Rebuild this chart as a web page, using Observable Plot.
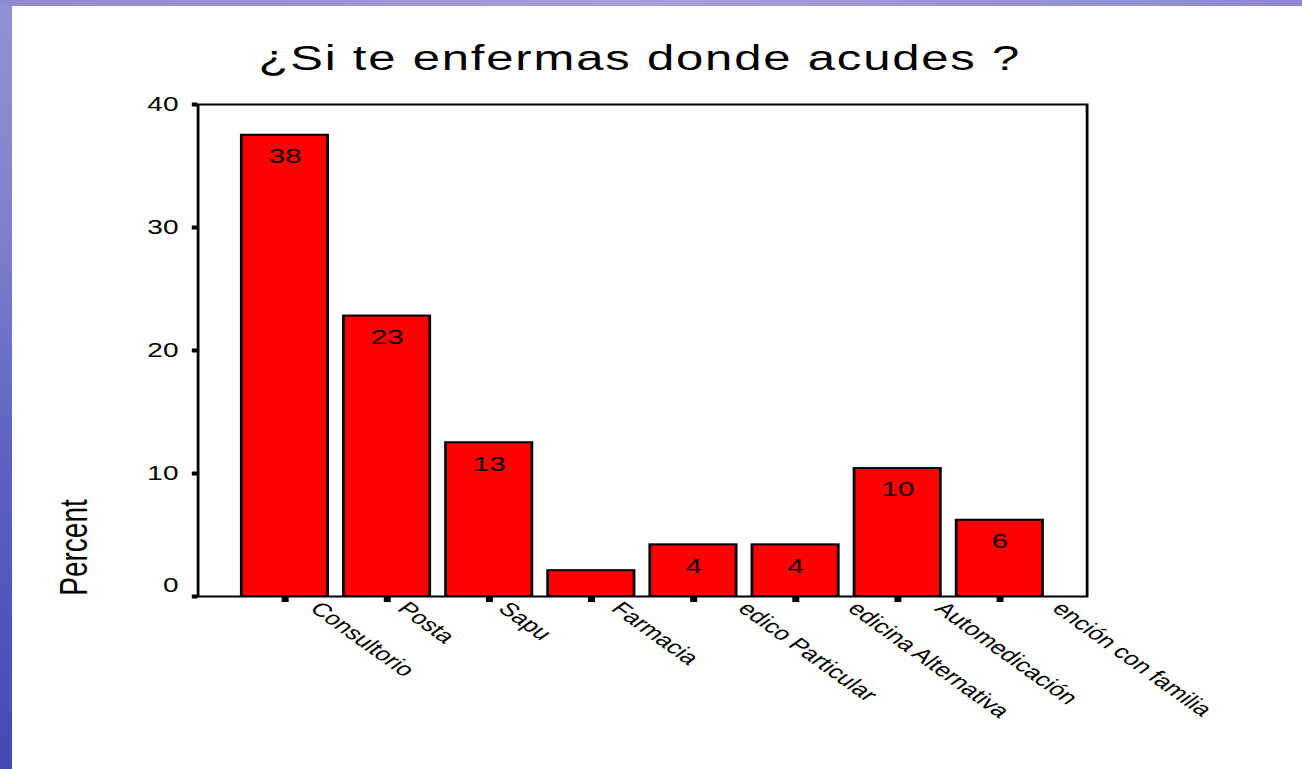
<!DOCTYPE html>
<html>
<head>
<meta charset="utf-8">
<script src="https://cdn.jsdelivr.net/npm/d3@7"></script>
<script src="https://cdn.jsdelivr.net/npm/@observablehq/plot@0.6"></script>
<style>
  html, body { margin: 0; padding: 0; background: #ffffff; width: 1302px; height: 769px; overflow: hidden;
    font-family: "Liberation Sans", Arial, sans-serif; }
  #strip-left { position: absolute; left: 0; top: 0; width: 12px; height: 769px; z-index: 2;
    background: linear-gradient(#9490d4, #7f80cc 30%, #5c62c2 60%, #434ab4); }
  #strip-top { position: absolute; left: 0; top: 0; width: 1302px; height: 6px; z-index: 2;
    background: linear-gradient(90deg, #8f8bd2, #a3a1dc 50%, #8c89d2); }
  #wrap { position: absolute; left: 0; top: 0; width: 930px; transform: scaleX(1.4); transform-origin: 0 0; }
  #title { height: 90px; box-sizing: border-box; padding-top: 40px; padding-right: 16px; text-align: center;
    font-size: 35px; line-height: 35px; letter-spacing: 1.3px; color: #000; white-space: nowrap; }
</style>
</head>
<body>
<div id="strip-left"></div>
<div id="strip-top"></div>
<div id="wrap">
  <div id="title"></div>
  <div id="chart"></div>
</div>
<script>
// ---- data ----
const titleText = "¿Si te enfermas donde acudes ?";
const yLabel = "Percent";
const categories = ["Consultorio", "Posta", "Sapu", "Farmacia", "Medico Particular",
  "Medicina Alternativa", "Automedicación", "Atención con familia"];
const percents = [37.5, 22.8, 12.5, 2.1, 4.2, 4.2, 10.4, 6.2];
const valueLabels = ["38", "23", "13", "", "4", "4", "10", "6"];
const tickLabels = ["Consultorio", "Posta", "Sapu", "Farmacia", "edico Particular",
  "edicina Alternativa", "Automedicación", "ención con familia"];
const yTicks = [0, 10, 20, 30, 40];

// ---- build ----
document.getElementById("title").textContent = titleText;

const rows = categories.map((c, i) => ({
  category: c, percent: percents[i], label: valueLabels[i], tick: tickLabels[i]
}));

const ctx = document.createElement("canvas").getContext("2d");
ctx.font = "19px 'Liberation Sans'";
const measure = s => ctx.measureText(s).width;

// labels shown as in the reference (leading letters of long names are cut off there)
const labelMarks = rows.map(r => {
  const hidden = r.category.slice(0, r.category.length - r.tick.length);
  return Plot.text([r], {
    x: "category", text: "tick", frameAnchor: "bottom", rotate: 45,
    textAnchor: "start", lineAnchor: "middle", fontSize: 19,
    dx: 0.22 * measure(r.tick) + 0.4 * measure(hidden), dy: 9
  });
});

const chart = Plot.plot({
  width: 930,
  height: 679,
  marginTop: 14,
  marginBottom: 173,
  marginLeft: 141,
  marginRight: 154,
  style: { fontFamily: "'Liberation Sans', Arial, sans-serif", color: "#000", background: "transparent", overflow: "visible" },
  x: { domain: categories, paddingInner: 0.155, paddingOuter: 0.43, round: false },
  y: { domain: [0, 40] },
  marks: [
    Plot.barY(rows, { x: "category", y: "percent", fill: "#ff0000", stroke: "#000", strokeWidth: 2 }),
    Plot.frame({ stroke: "#000", strokeWidth: 2 }),
    Plot.axisX({ tickSize: 6, strokeWidth: 5, tickFormat: () => "", label: null }),
    Plot.axisY(yTicks, { tickSize: 4, strokeWidth: 4, tickPadding: 10, fontSize: 20,
      tickFormat: d => d === 0 ? "" : String(d), label: null }),
    Plot.axisY([0], { tickSize: 0, tickPadding: 14, fontSize: 20, dy: -11, label: null }),
    Plot.text(rows, { x: "category", y: "percent", text: "label", lineAnchor: "top", dy: 13, fontSize: 21, fill: "#000" }),
    ...labelMarks,
    Plot.text([yLabel], { frameAnchor: "bottom-left", text: d => d, rotate: -90, textAnchor: "middle",
      lineAnchor: "middle", fontSize: 28, dx: -88, dy: -49, fill: "#000" })
  ]
});
document.getElementById("chart").appendChild(chart);
</script>
</body>
</html>
